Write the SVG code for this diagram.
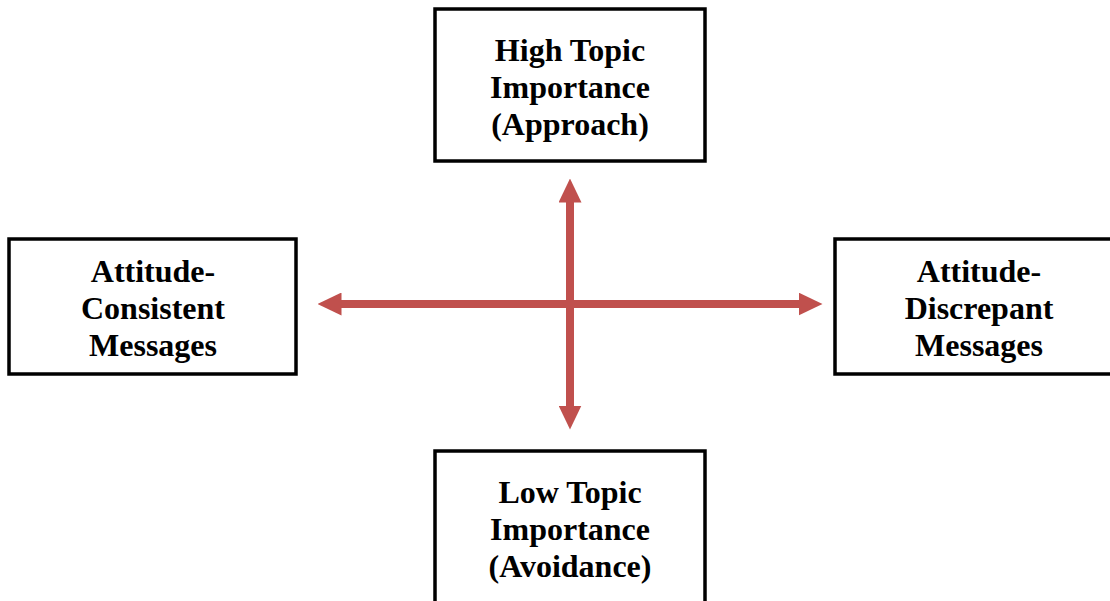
<svg xmlns="http://www.w3.org/2000/svg" width="1110" height="601" viewBox="0 0 1110 601">
  <style>
    .box { fill: #ffffff; stroke: #000000; stroke-width: 3.5; }
    .lbl { font-family: "Liberation Serif", "Times New Roman", serif; font-weight: bold; font-size: 32px; fill: #000000; text-anchor: middle; }
    .arr { stroke: #C0504D; stroke-width: 8; fill: none; }
  </style>
  <defs>
    <marker id="head" markerUnits="userSpaceOnUse" markerWidth="24" markerHeight="23" refX="0.5" refY="11.5" orient="auto-start-reverse" viewBox="0 0 24 23">
      <path d="M0,0 L24,11.5 L0,23 z" fill="#C0504D"/>
    </marker>
  </defs>
  <rect width="1110" height="601" fill="#ffffff"/>
  <g id="connectors">
    <line class="arr" x1="341" y1="304" x2="799" y2="304" marker-start="url(#head)" marker-end="url(#head)"/>
    <line class="arr" x1="570" y1="202" x2="570" y2="406" marker-start="url(#head)" marker-end="url(#head)"/>
  </g>
  <g id="node-high">
    <rect class="box" x="435" y="9" width="270" height="152"/>
    <text class="lbl" x="570" y="61">High Topic</text>
    <text class="lbl" x="570" y="98">Importance</text>
    <text class="lbl" x="570" y="135">(Approach)</text>
  </g>
  <g id="node-consistent">
    <rect class="box" x="9" y="239" width="287" height="135"/>
    <text class="lbl" x="153" y="282">Attitude-</text>
    <text class="lbl" x="153" y="319">Consistent</text>
    <text class="lbl" x="153" y="356">Messages</text>
  </g>
  <g id="node-discrepant">
    <rect class="box" x="835" y="239" width="288" height="135"/>
    <text class="lbl" x="979" y="282">Attitude-</text>
    <text class="lbl" x="979" y="319">Discrepant</text>
    <text class="lbl" x="979" y="356">Messages</text>
  </g>
  <g id="node-low">
    <rect class="box" x="435" y="451" width="270" height="170"/>
    <text class="lbl" x="570" y="503">Low Topic</text>
    <text class="lbl" x="570" y="540">Importance</text>
    <text class="lbl" x="570" y="577">(Avoidance)</text>
  </g>
</svg>
